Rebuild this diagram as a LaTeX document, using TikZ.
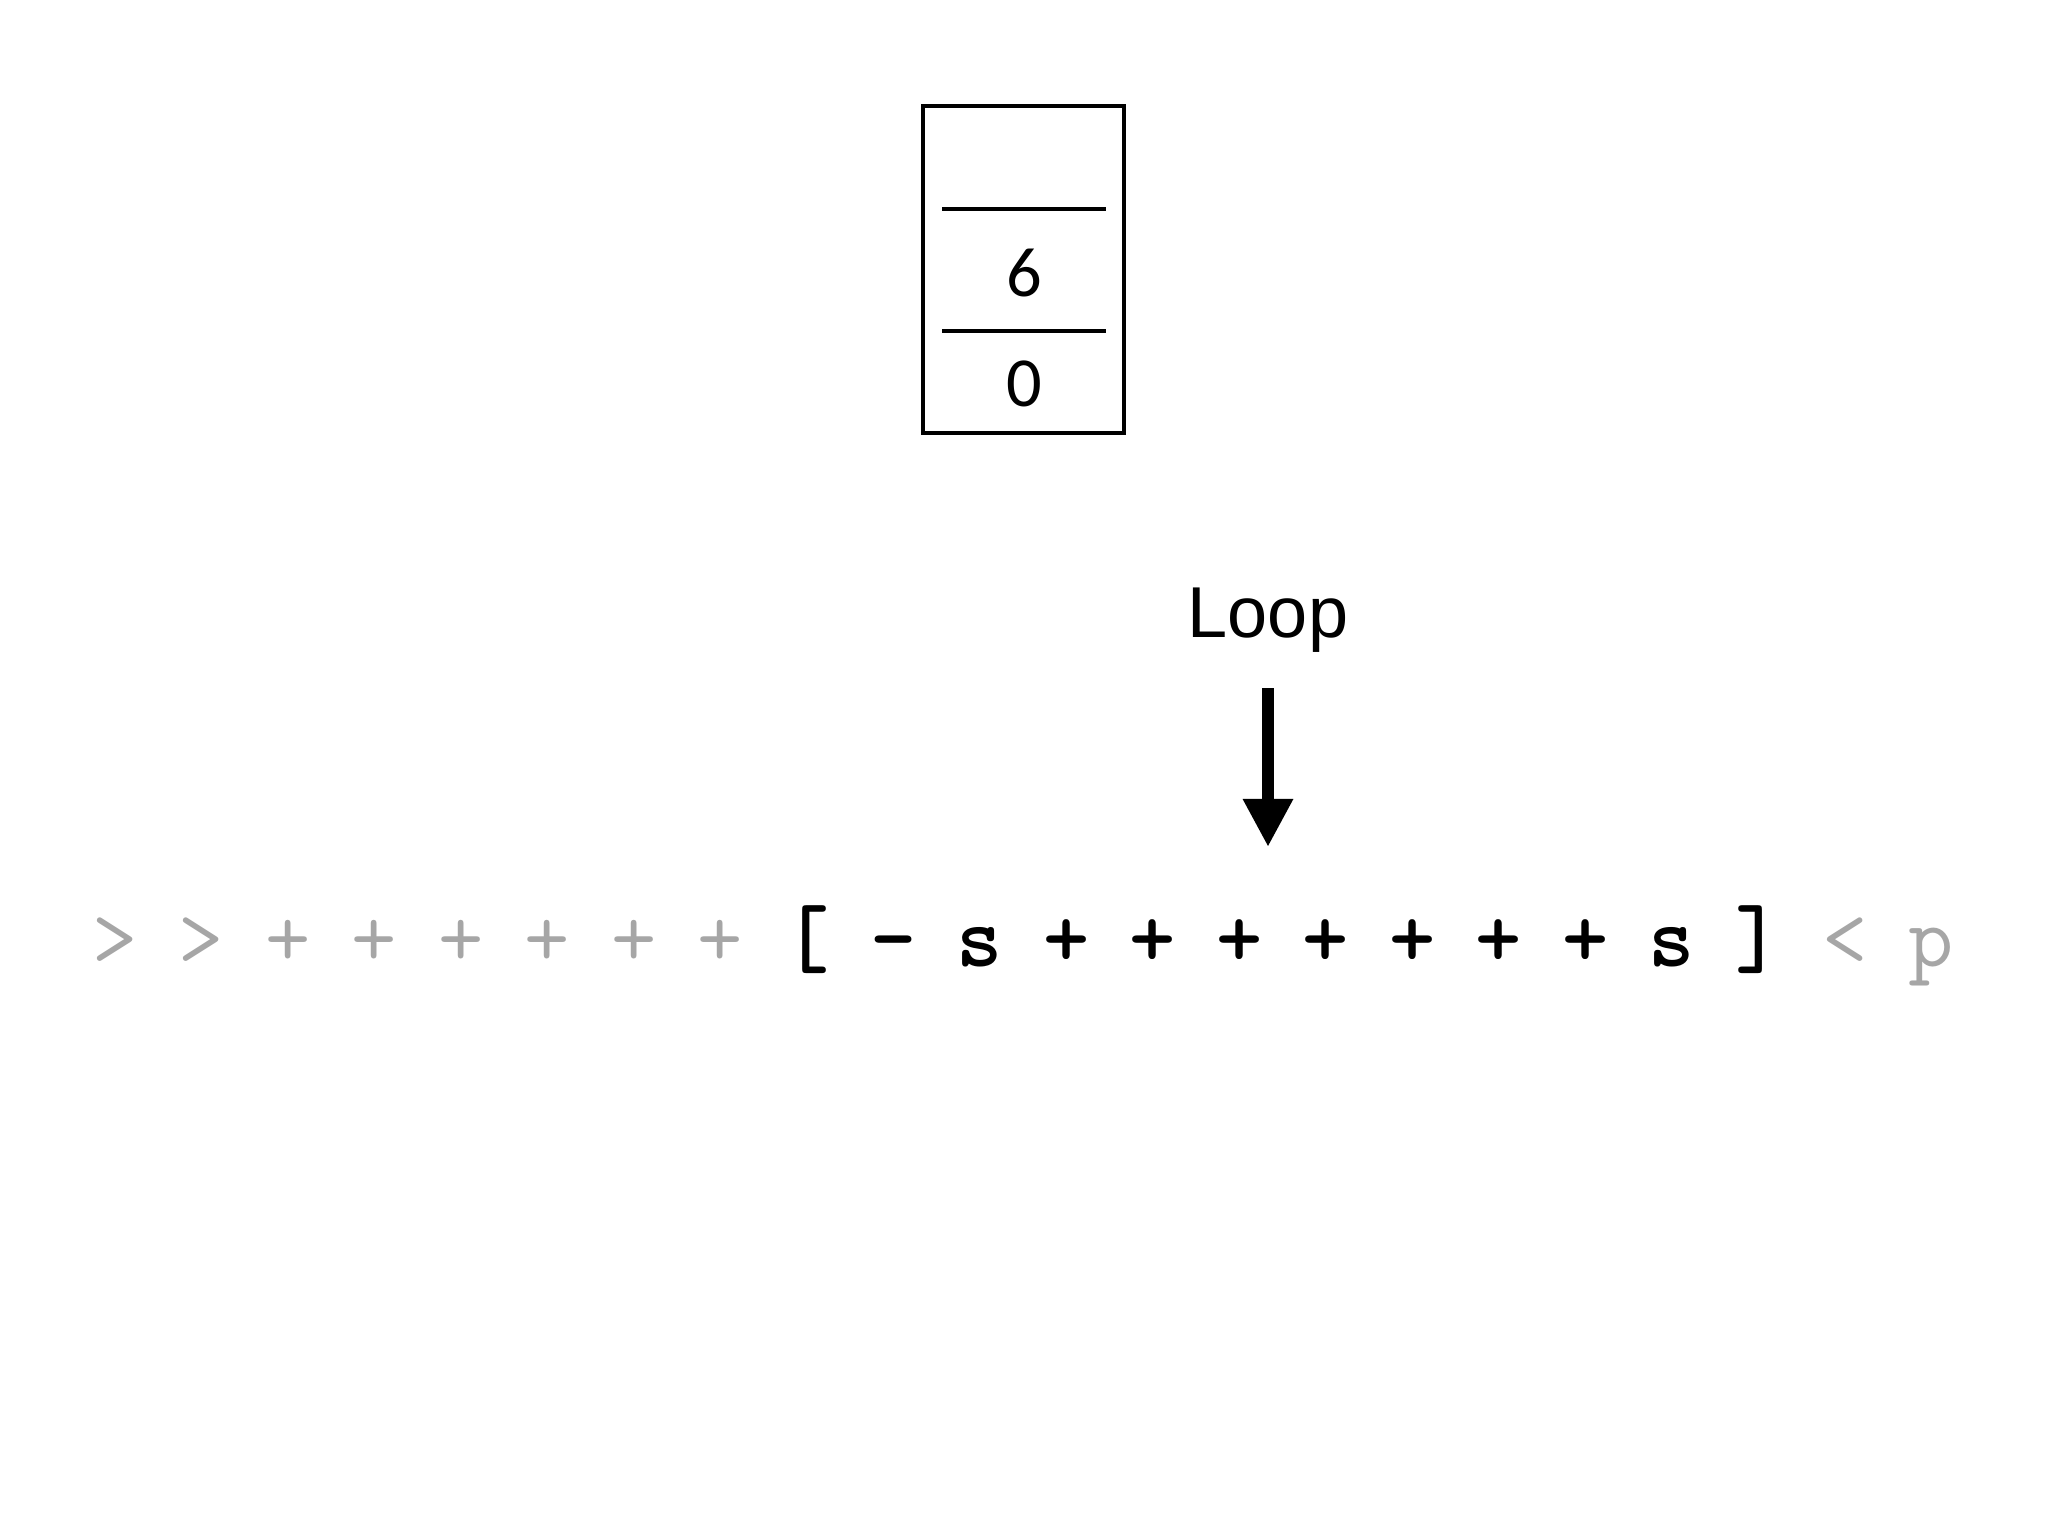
\documentclass[tikz,border=0pt]{standalone}
\usepackage{fontspec}
\setmainfont{Liberation Sans}
\newfontfamily\digitfont{Carlito}
\usetikzlibrary{arrows.meta}
\definecolor{codegrey}{HTML}{A6A6A6}
\tikzset{
  cellline/.style={line width=1pt},
  stackbox/.style={draw, line width=1pt, minimum width=2.01cm, minimum height=3.27cm, inner sep=0pt},
  digit/.style={font=\digitfont\fontsize{20}{24}\selectfont, inner sep=0pt},
  looplabel/.style={font=\fontsize{20.5}{24}\selectfont, inner sep=0pt, anchor=base},
  codeon/.style={font=\ttfamily\bfseries\fontsize{25}{30}\selectfont, text=black, inner sep=0pt, anchor=base},
  codeoff/.style={font=\ttfamily\fontsize{25}{30}\selectfont, text=codegrey, inner sep=0pt, anchor=base},
  bigarrow/.style={line width=3.4pt, -{Triangle[length=0.48cm, width=0.47cm]}}
}
\begin{document}
\begin{tikzpicture}[x=0.01cm,y=-0.01cm]
\useasboundingbox (0,0) rectangle (2048,1536);
% memory stack
\node[stackbox] (stack) at (1023.5,269.5) {};
\coordinate (l1a) at (942,209); \coordinate (l1b) at (1106,209);
\coordinate (l2a) at (942,331); \coordinate (l2b) at (1106,331);
\draw[cellline] (l1a) -- (l1b);
\draw[cellline] (l2a) -- (l2b);
\node[digit] (six) at (1024,273) {6};
\node[digit] (zero) at (1024,384) {0};
% loop label and arrow
\node[looplabel] (loop) at (1268,637) {Loop};
\coordinate (arrtop) at (1268,688);
\coordinate (arrtip) at (1268,847);
\draw[bigarrow] (arrtop) -- (arrtip);
% code line
\foreach \i/\c/\s in {0/>/codeoff,1/>/codeoff,2/+/codeoff,3/+/codeoff,4/+/codeoff,5/+/codeoff,6/+/codeoff,7/+/codeoff,
  8/[/codeon,9/-/codeon,10/s/codeon,11/+/codeon,12/+/codeon,13/+/codeon,14/+/codeon,15/+/codeon,16/+/codeon,17/+/codeon,
  18/s/codeon,19/]/codeon,20/</codeoff,21/p/codeoff}{
  \node[\s] (c\i) at ({115+86.5*\i},966) {\c};
}
\end{tikzpicture}
\end{document}
